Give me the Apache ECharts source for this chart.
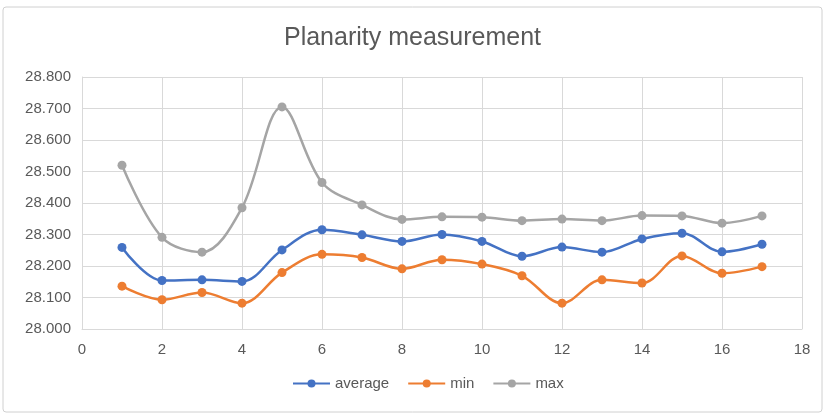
<!doctype html>
<html lang="en">
  <head>
    <meta charset="utf-8">
    <title>Planarity measurement</title>
    <script src="https://cdn.jsdelivr.net/npm/echarts@6/dist/echarts.min.js"></script>
    <style>
      html, body { margin: 0; padding: 0; background: #fff; }
      #chart { width: 825px; height: 415px; }
    </style>
  </head>
  <body>
    <div id="chart"></div>
    <script>
    // measurement index
    var points = [1, 2, 3, 4, 5, 6, 7, 8, 9, 10, 11, 12, 13, 14, 15, 16, 17];
    var average = [28.259, 28.154, 28.156, 28.151, 28.251, 28.315, 28.299, 28.278, 28.300,
                   28.278, 28.231, 28.260, 28.244, 28.286, 28.304, 28.245, 28.269];
    var minVals = [28.136, 28.093, 28.116, 28.082, 28.179, 28.237, 28.227, 28.191, 28.220,
                   28.206, 28.169, 28.082, 28.156, 28.146, 28.232, 28.177, 28.198];
    var maxVals = [28.520, 28.291, 28.244, 28.385, 28.705, 28.465, 28.394, 28.348, 28.356,
                   28.355, 28.344, 28.349, 28.344, 28.360, 28.359, 28.336, 28.359];

    function pairs(vals) {
      return points.map(function (p, i) { return [p, vals[i]]; });
    }

    var chart = echarts.init(document.getElementById('chart'), null, { renderer: 'canvas' });
    var txt = '#595959';
    var font = 'Liberation Sans, Arial, sans-serif';

    function line(name, vals, color) {
      return {
        name: name,
        type: 'line',
        data: pairs(vals),
        smooth: 0.35,
        symbol: 'circle',
        symbolSize: 9,
        lineStyle: { width: 2.5, color: color },
        itemStyle: { color: color }
      };
    }

    var option = {
      animation: false,
      textStyle: { fontFamily: font },
      graphic: [{
        type: 'rect',
        shape: { x: 3, y: 7, width: 819, height: 405, r: 3 },
        style: { fill: 'none', stroke: '#d0d0d0', lineWidth: 1 },
        silent: true
      }],
      title: {
        text: 'Planarity measurement',
        left: 'center',
        top: 21,
        textStyle: { color: txt, fontSize: 25, fontWeight: 'normal', fontFamily: font }
      },
      grid: { left: 82, right: 23, top: 77, bottom: 86 },
      xAxis: {
        type: 'value',
        min: 0, max: 18, interval: 2,
        axisLine: { show: true, lineStyle: { color: '#d9d9d9' } },
        axisTick: { show: false },
        axisLabel: { color: txt, fontSize: 15, margin: 13 },
        splitLine: { show: true, lineStyle: { color: '#d9d9d9' } }
      },
      yAxis: {
        type: 'value',
        min: 28.0, max: 28.8, interval: 0.1,
        axisLine: { show: true, lineStyle: { color: '#d9d9d9' } },
        axisTick: { show: false },
        axisLabel: {
          color: txt, fontSize: 15, margin: 11,
          formatter: function (v) { return v.toFixed(3); }
        },
        splitLine: { show: true, lineStyle: { color: '#d9d9d9' } }
      },
      legend: {
        bottom: 19,
        left: 287,
        itemWidth: 37,
        itemHeight: 10,
        itemGap: 18,
        textStyle: { color: txt, fontSize: 15 },
        data: ['average', 'min', 'max']
      },
      series: [
        line('average', average, '#4472C4'),
        line('min', minVals, '#ED7D31'),
        line('max', maxVals, '#A5A5A5')
      ]
    };

    chart.setOption(option);
    window.addEventListener('resize', chart.resize);
    </script>
  </body>
</html>
